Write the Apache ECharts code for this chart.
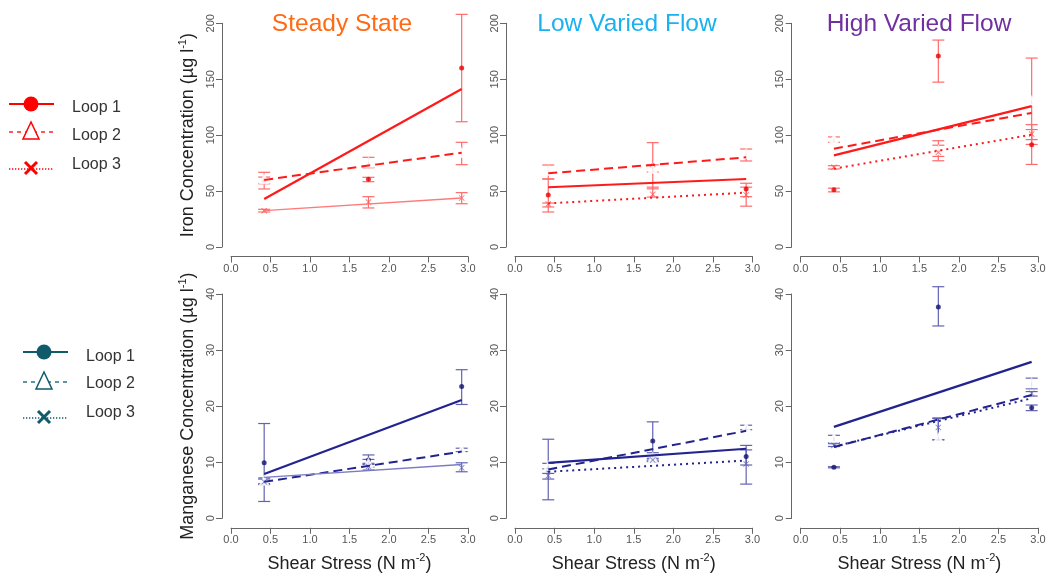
<!DOCTYPE html>
<html><head><meta charset="utf-8">
<script src="https://cdn.jsdelivr.net/npm/echarts@6/dist/echarts.min.js"></script>
<style>html,body{margin:0;padding:0;background:#fff}#c{width:1051px;height:578px}</style>
</head><body><div id="c"></div>
<script>
// ---------- DATA ----------
const stressX = [0.42, 1.74, 2.92];     // shear stress (N m-2) of the three sampling points
const fitX = [0.42, 2.92];              // extent of regression lines
const panelTitles = ['Steady State', 'Low Varied Flow', 'High Varied Flow'];
const loopNames = ['Loop 1', 'Loop 2', 'Loop 3'];
const feTicks = [0, 50, 100, 150, 200];
const mnTicks = [0, 10, 20, 30, 40];

// Iron (µg/l) - Steady State
const feSS1 = [59.6, 60.5, 160.0];
const feSS1Err = [[56.5, 62.5], [58.4, 62.3], [112, 208]];
const feSS1Fit = [42.9, 141.3];
const feSS2 = [60.5, 75.4, 84.0];
const feSS2Err = [[51.9, 66.8], [70.9, 80.2], [73.6, 93.6]];
const feSS2Fit = [60.0, 84.3];
const feSS3 = [32.5, 40.2, 43.8];
const feSS3Err = [[31.3, 33.7], [34.9, 45.0], [38.7, 48.6]];
const feSS3Fit = [32.5, 43.8];
// Iron - Low Varied Flow
const feLV1 = [46.5, 72.7, 51.9];
const feLV1Err = [[31.3, 60.8], [52.0, 93.3], [45.0, 57.0]];
const feLV1Fit = [53.4, 60.8];
const feLV2 = [68.2, 70.0, 83.2];
const feLV2Err = [[60.8, 73.3], [67.0, 73.5], [76.9, 87.6]];
const feLV2Fit = [65.9, 80.2];
const feLV3 = [38.5, 47.1, 46.5];
const feLV3Err = [[35.8, 39.3], [44.6, 53.5], [36.5, 53.5]];
const feLV3Fit = [39.0, 48.6];
// Iron - High Varied Flow
const feHV1 = [51.1, 170.7, 91.5];
const feHV1Err = [[49.3, 52.6], [147.4, 185.0], [73.8, 109.4]];
const feHV1Fit = [81.9, 125.9];
const feHV2 = [96.3, 86.4, 130.3];
const feHV2Err = [[93.6, 98.4], [81.0, 95.0], [91.7, 168.9]];
const feHV2Fit = [87.9, 119.9];
const feHV3 = [71.2, 84.6, 101.0];
const feHV3Err = [[69.8, 72.7], [77.1, 91.0], [96.0, 105.0]];
const feHV3Fit = [70.0, 100.4];

// Manganese (µg/l) - Steady State
const mnSS1 = [9.9, 10.4, 23.5];
const mnSS1Err = [[3.0, 16.9], [9.6, 11.3], [20.3, 26.5]];
const mnSS1Fit = [7.9, 21.1];
const mnSS2 = [6.7, 9.8, 12.2];
const mnSS2Err = [[6.2, 7.2], [9.1, 10.5], [11.9, 12.5]];
const mnSS2Fit = [6.5, 11.9];
const mnSS3 = [6.5, 9.2, 9.0];
const mnSS3Err = [[6.0, 7.0], [8.6, 9.8], [8.3, 9.9]];
const mnSS3Fit = [7.3, 9.6];
// Manganese - Low Varied Flow
const mnLV1 = [8.7, 13.8, 11.0];
const mnLV1Err = [[3.3, 14.1], [10.4, 17.2], [6.1, 13.0]];
const mnLV1Fit = [9.9, 12.4];
const mnLV2 = [9.3, 10.8, 16.2];
const mnLV2Err = [[8.8, 9.8], [10.2, 11.7], [15.8, 16.6]];
const mnLV2Fit = [8.7, 15.6];
const mnLV3 = [7.6, 10.4, 9.7];
const mnLV3Err = [[7.0, 8.0], [10.1, 10.7], [9.5, 12.2]];
const mnLV3Fit = [8.3, 10.3];
// Manganese - High Varied Flow
const mnHV1 = [9.1, 37.7, 19.7];
const mnHV1Err = [[9.0, 9.2], [34.3, 41.3], [19.2, 20.2]];
const mnHV1Fit = [16.3, 27.9];
const mnHV2 = [14.3, 14.3, 24.1];
const mnHV2Err = [[13.5, 14.8], [14.0, 17.8], [23.1, 25.0]];
const mnHV2Fit = [12.7, 22.0];
const mnHV3 = [13.0, 16.2, 22.3];
const mnHV3Err = [[12.8, 13.3], [14.0, 17.9], [21.8, 22.6]];
const mnHV3Fit = [12.8, 21.4];

// ---------- LAYOUT / STYLE ----------
const FONT = '"Liberation Sans", Arial, sans-serif';
const colLeft = [231, 515, 800.7];
const colWidth = [237, 237.5, 237.3];
const rowTop = [23.3, 294];
const rowHeight = [223.7, 224.3];
const titleCenters = [342, 627, 919];
const titleColors = ['#FF6A13', '#1AB2EE', '#7030A0'];

const palette = {
  fe: { line: '#FF1A1A', thin: '#FF7A7A', err: '#FF6B6B', dot: '#E80000', open: '#FF5050' },
  mn: { line: '#23238F', thin: '#7B7BC4', err: '#6262B4', dot: '#12126E', open: '#6A6AB8' }
};
const crossPath = 'path://M0,1L1,0L5,4L9,0L10,1L6,5L10,9L9,10L5,6L1,10L0,9L4,5Z';

const panels = [
  { row: 0, col: 0, el: 'fe', loops: [[feSS1, feSS1Err, feSS1Fit], [feSS2, feSS2Err, feSS2Fit], [feSS3, feSS3Err, feSS3Fit]] },
  { row: 0, col: 1, el: 'fe', loops: [[feLV1, feLV1Err, feLV1Fit], [feLV2, feLV2Err, feLV2Fit], [feLV3, feLV3Err, feLV3Fit]] },
  { row: 0, col: 2, el: 'fe', loops: [[feHV1, feHV1Err, feHV1Fit], [feHV2, feHV2Err, feHV2Fit], [feHV3, feHV3Err, feHV3Fit]] },
  { row: 1, col: 0, el: 'mn', loops: [[mnSS1, mnSS1Err, mnSS1Fit], [mnSS2, mnSS2Err, mnSS2Fit], [mnSS3, mnSS3Err, mnSS3Fit]] },
  { row: 1, col: 1, el: 'mn', loops: [[mnLV1, mnLV1Err, mnLV1Fit], [mnLV2, mnLV2Err, mnLV2Fit], [mnLV3, mnLV3Err, mnLV3Fit]] },
  { row: 1, col: 2, el: 'mn', loops: [[mnHV1, mnHV1Err, mnHV1Fit], [mnHV2, mnHV2Err, mnHV2Fit], [mnHV3, mnHV3Err, mnHV3Fit]] }
];

const grids = [], xAxes = [], yAxes = [], series = [];
const axisGrey = '#666', labelGrey = '#555';
const supRich = { sup: { fontSize: 11, fontFamily: FONT, color: '#222', padding: [0, 0, 12, 0] } };

panels.forEach((p, i) => {
  grids.push({ left: colLeft[p.col], top: rowTop[p.row], width: colWidth[p.col], height: rowHeight[p.row] });
  const isMn = p.el === 'mn';
  const ticks = isMn ? mnTicks : feTicks;
  xAxes.push({
    gridIndex: i, type: 'value', min: 0, max: 3, interval: 0.5, offset: 9.5,
    axisLine: { show: true, onZero: false, lineStyle: { color: axisGrey, width: 1 } },
    axisTick: { show: true, length: 6, lineStyle: { color: axisGrey } },
    axisLabel: { color: labelGrey, fontSize: 11, fontFamily: FONT, margin: 7, formatter: v => v.toFixed(1) },
    splitLine: { show: false },
    name: p.row === 1 ? 'Shear Stress (N m{sup|-2})' : '',
    nameLocation: 'middle', nameGap: 25,
    nameTextStyle: { fontSize: 18, color: '#222', fontFamily: FONT, rich: supRich }
  });
  yAxes.push({
    gridIndex: i, type: 'value', min: ticks[0], max: ticks[ticks.length - 1],
    interval: ticks[1] - ticks[0], offset: 9,
    axisLine: { show: true, onZero: false, lineStyle: { color: axisGrey, width: 1 } },
    axisTick: { show: true, length: 6, lineStyle: { color: axisGrey } },
    axisLabel: { color: labelGrey, fontSize: 11, fontFamily: FONT, rotate: 90, margin: 6 },
    splitLine: { show: false },
    name: p.col === 0 ? (isMn ? 'Manganese Concentration (µg l{sup|-1})' : 'Iron Concentration (µg l{sup|-1})') : '',
    nameLocation: 'middle', nameRotate: 90, nameGap: 22,
    nameTextStyle: { fontSize: 18, color: '#222', fontFamily: FONT, rich: supRich }
  });

  const c = palette[p.el];
  p.loops.forEach((lp, k) => {
    const [means, errs, fit] = lp;
    // error bars
    series.push({
      type: 'custom', xAxisIndex: i, yAxisIndex: i, clip: false, silent: true, z: 2,
      data: stressX.map((x, j) => [x, errs[j][0], errs[j][1]]),
      encode: { x: 0, y: [1, 2] },
      renderItem: (params, api) => {
        const x = api.value(0);
        const lo = api.coord([x, api.value(1)]);
        const hi = api.coord([x, api.value(2)]);
        const w = 6, st = { stroke: c.err, lineWidth: 1.2 };
        return { type: 'group', children: [
          { type: 'line', shape: { x1: lo[0], y1: lo[1], x2: hi[0], y2: hi[1] }, style: st },
          { type: 'line', shape: { x1: lo[0] - w, y1: lo[1], x2: lo[0] + w, y2: lo[1] }, style: st },
          { type: 'line', shape: { x1: hi[0] - w, y1: hi[1], x2: hi[0] + w, y2: hi[1] }, style: st }
        ] };
      }
    });
    // markers
    const sym = k === 0 ? 'circle' : (k === 1 ? 'emptyTriangle' : crossPath);
    series.push({
      type: 'scatter', xAxisIndex: i, yAxisIndex: i, z: 3, silent: true,
      symbol: sym, symbolSize: k === 0 ? 5 : (k === 1 ? 8 : 6),
      itemStyle: k === 1 ? { color: '#fff', borderColor: c.open, borderWidth: 1 } : { color: k === 0 ? c.dot : c.open },
      data: stressX.map((x, j) => [x, means[j]])
    });
    // regression line
    let ls;
    if (k === 0) ls = { color: c.line, width: 2.2, type: 'solid' };
    else if (k === 1) ls = { color: c.line, width: 2, type: [9, 5] };
    else if (p.col === 0) ls = { color: c.thin, width: 1.4, type: 'solid' };
    else ls = { color: c.line, width: 2, type: [2, 4] };
    series.push({
      type: 'line', xAxisIndex: i, yAxisIndex: i, z: 4, silent: true,
      showSymbol: false, symbol: 'none', lineStyle: ls, clip: false,
      data: fitX.map((x, j) => [x, fit[j]])
    });
  });
});

// panel titles
const titles = panelTitles.map((t, j) => ({
  text: t, left: titleCenters[j] - 5, top: 7, textAlign: 'center',
  textStyle: { color: titleColors[j], fontSize: 24.5, fontWeight: 'normal', fontFamily: FONT }
}));

// legends (drawn as graphics)
function legendBlock(color, x0, x1, mx, ys, tx, tys) {
  const els = [];
  els.push({ type: 'line', shape: { x1: x0, y1: ys[0], x2: x1, y2: ys[0] }, style: { stroke: color, lineWidth: 2 } });
  els.push({ type: 'circle', shape: { cx: mx, cy: ys[0], r: 7.5 }, style: { fill: color } });
  els.push({ type: 'line', shape: { x1: x0, y1: ys[1], x2: x1, y2: ys[1] }, style: { stroke: color, lineWidth: 1.3, lineDash: [4, 4] } });
  els.push({ type: 'polygon', shape: { points: [[mx, ys[1] - 10], [mx - 8, ys[1] + 7], [mx + 8, ys[1] + 7]] }, style: { fill: '#fff', stroke: color, lineWidth: 1.5 } });
  els.push({ type: 'line', shape: { x1: x0, y1: ys[2], x2: x1, y2: ys[2] }, style: { stroke: color, lineWidth: 1.3, lineDash: [1.3, 1.7] } });
  els.push({ type: 'line', shape: { x1: mx - 6, y1: ys[2] - 7, x2: mx + 6, y2: ys[2] + 5 }, style: { stroke: color, lineWidth: 3 } });
  els.push({ type: 'line', shape: { x1: mx - 6, y1: ys[2] + 5, x2: mx + 6, y2: ys[2] - 7 }, style: { stroke: color, lineWidth: 3 } });
  loopNames.forEach((n, k) => {
    els.push({ type: 'text', x: tx, y: tys[k], style: { text: n, fill: '#333', fontSize: 16, fontFamily: FONT, textVerticalAlign: 'middle', verticalAlign: 'middle' } });
  });
  return els;
}
const graphics = [].concat(
  legendBlock('#FF0000', 9, 54, 31, [104, 132, 169], 72, [108, 136, 165]),
  legendBlock('#0F5B6B', 23, 68, 44, [352, 382, 418], 86, [357, 384, 413])
);

const chart = echarts.init(document.getElementById('c'), null, { renderer: 'canvas' });
chart.setOption({
  animation: false,
  backgroundColor: '#fff',
  title: titles,
  grid: grids,
  xAxis: xAxes,
  yAxis: yAxes,
  series: series,
  graphic: graphics
});
</script></body></html>
